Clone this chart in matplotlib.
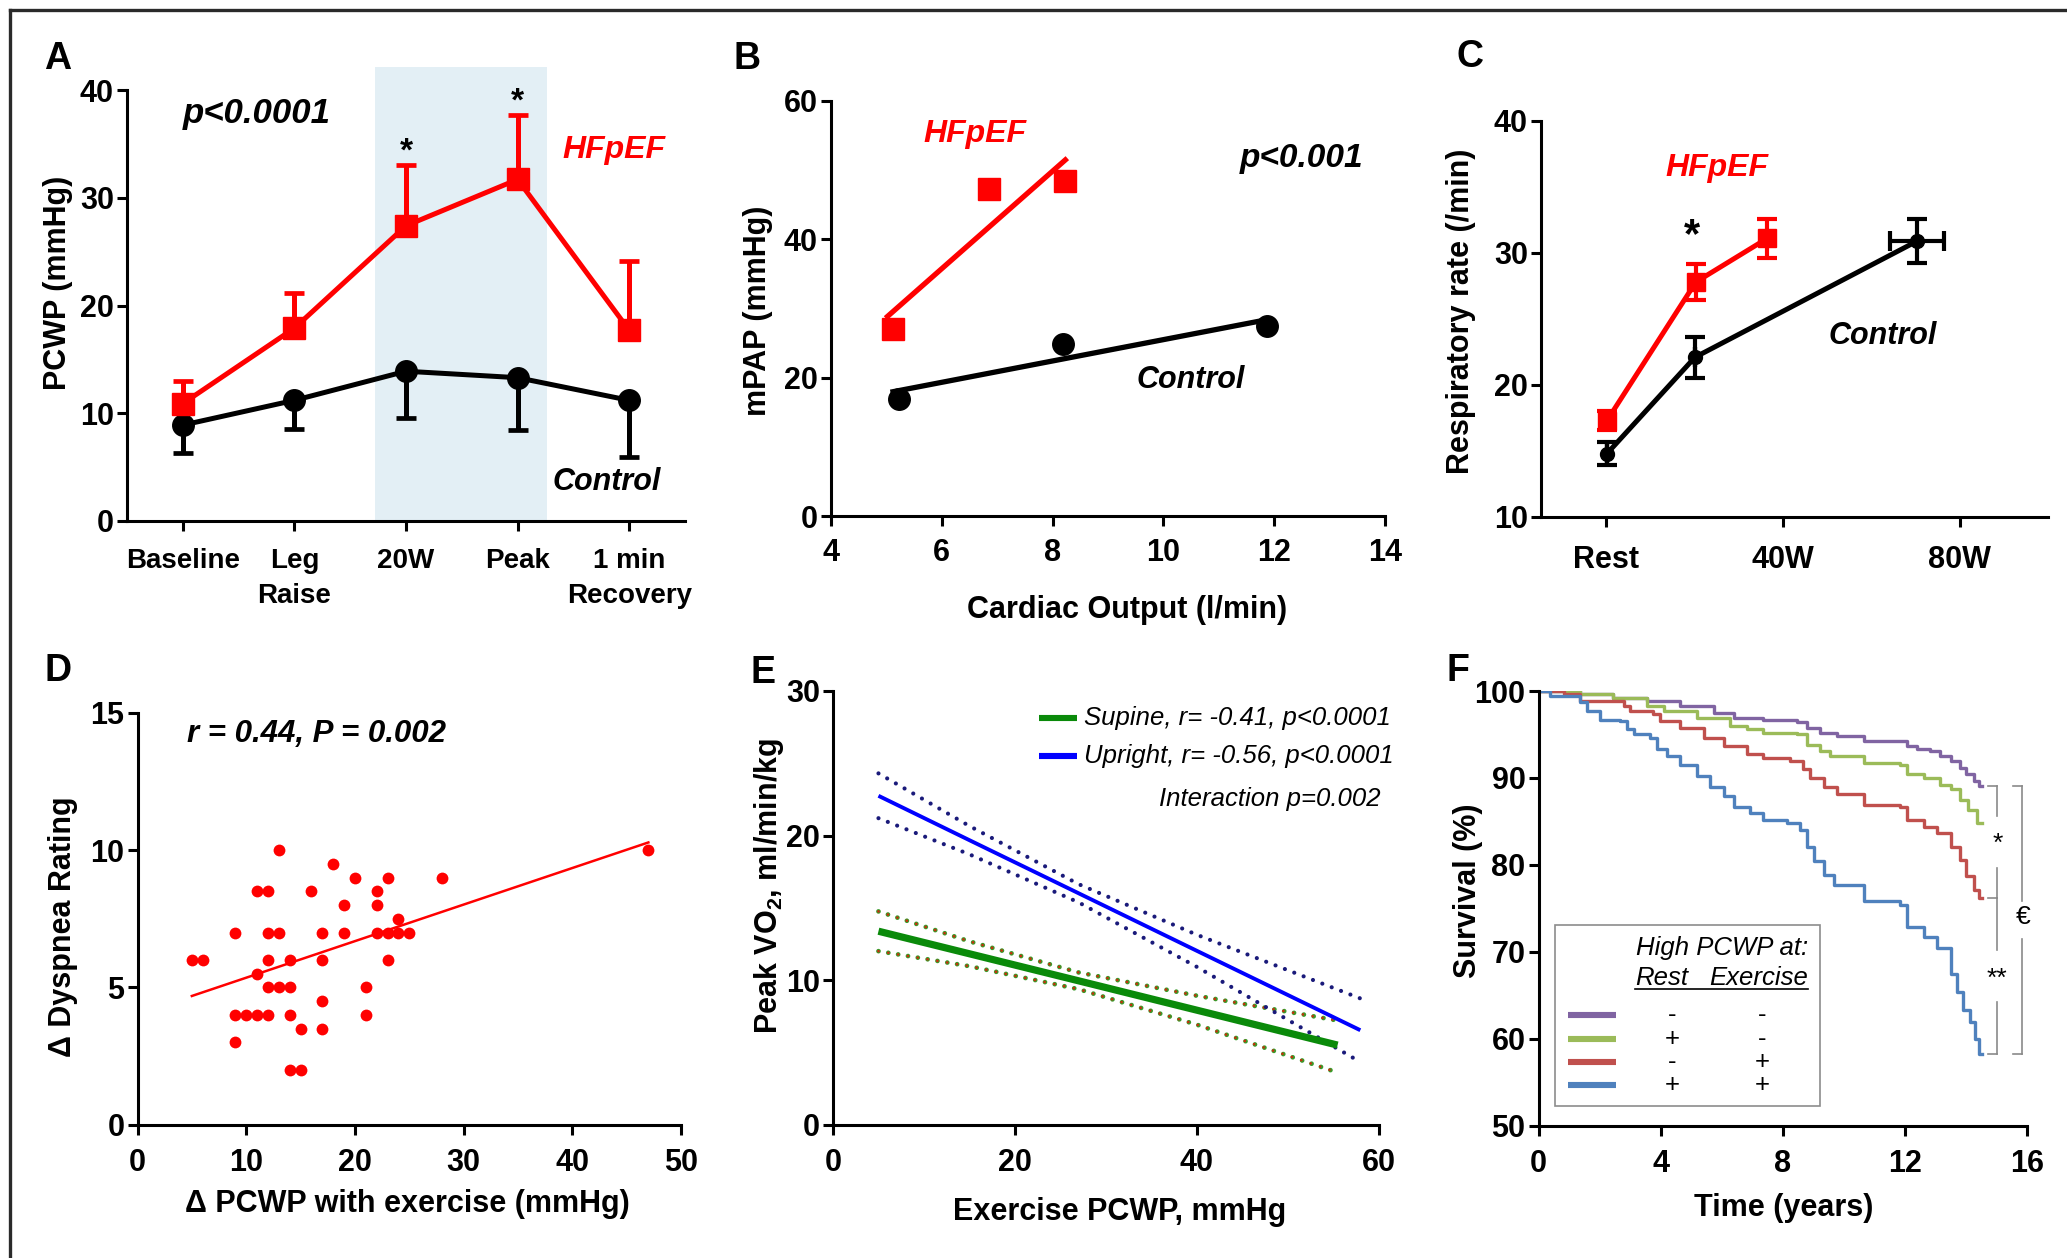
import matplotlib
matplotlib.use("Agg")
import matplotlib.pyplot as plt
import numpy as np
from matplotlib.lines import Line2D
from matplotlib.patches import Rectangle

W, H = 2067, 1258
RED = '#ff0000'

plt.rcParams['font.family'] = ['Liberation Sans', 'DejaVu Sans']
plt.rcParams['font.weight'] = 'bold'
plt.rcParams['mathtext.default'] = 'regular'

# ---------------- data ----------------
# A: PCWP by stage
a_stage = ['Baseline', 'Leg\nRaise', '20W', 'Peak', '1 min\nRecovery']
a_hf = [10.9, 17.9, 27.4, 31.7, 17.7]
a_hf_sd = [2.05, 3.3, 5.6, 6.0, 6.4]
a_ctl = [8.9, 11.2, 13.9, 13.3, 11.2]
a_ctl_sd = [2.55, 2.65, 4.35, 4.85, 5.3]
a_shade = [1.72, 3.26]

# B: mPAP vs cardiac output
b_hf_co = [5.12, 6.85, 8.23]
b_hf_pap = [27.1, 47.3, 48.4]
b_ctl_co = [5.22, 8.18, 11.87]
b_ctl_pap = [16.9, 24.9, 27.4]

# C: respiratory rate vs workload
c_hf_w = [0.3, 20.4, 36.5]
c_hf_rr = [17.3, 27.8, 31.1]
c_hf_sd = [0.7, 1.35, 1.5]
c_ctl_w = [0.3, 20.2, 70.4]
c_ctl_rr = [14.8, 22.1, 30.9]
c_ctl_sd = [0.85, 1.55, 1.65]
c_ctl_wsd = [0, 0, 6.2]
c_ticks = [0, 40, 80]
c_ticklabels = ['Rest', '40W', '80W']

# D: dyspnea vs delta PCWP
d_dpcwp = [5, 6, 9, 9, 9, 10, 11, 11, 11, 12, 12, 12, 12, 12, 13, 13, 13,
           14, 14, 14, 14, 15, 15, 16, 17, 17, 17, 17, 18, 19, 19, 20, 21,
           21, 22, 22, 22, 23, 23, 23, 24, 24, 25, 28, 47]
d_dysp = [6, 6, 7, 4, 3, 4, 5.5, 4, 8.5, 8.5, 7, 6, 5, 4, 10, 7, 5,
          6, 5, 4, 2, 3.5, 2, 8.5, 7, 6, 4.5, 3.5, 9.5, 8, 7, 9, 5,
          4, 8.5, 8, 7, 9, 7, 6, 7.5, 7, 7, 9, 10]

# E: peak VO2 vs exercise PCWP (fit + 95% CI)
e_sup_x = [5, 15, 27, 40, 55.5]
e_sup_fit = [13.38, 11.82, 9.95, 7.92, 5.5]
e_sup_hi = [14.75, 12.68, 10.53, 8.92, 7.2]
e_sup_lo = [12.0, 10.96, 9.37, 6.92, 3.6]
e_up_x = [5, 15, 27, 40, 58]
e_up_fit = [22.75, 19.68, 16.01, 12.03, 6.53]
e_up_hi = [24.3, 20.66, 16.64, 13.14, 8.73]
e_up_lo = [21.2, 18.7, 15.38, 10.92, 4.33]

# F: Kaplan-Meier survival
f_purple_t = [0, 1.36, 2.45, 3.55, 4.64, 5.73, 6.38, 7.36, 8.46, 8.78, 9.22, 9.77,
              10.64, 11.84, 12.06, 12.4, 12.8, 13.15, 13.5, 13.8, 14.0, 14.24, 14.4, 14.5]
f_purple_s = [100, 99.6, 99.2, 98.8, 98.3, 97.5, 96.9, 96.7, 96.4, 95.8, 95.2, 94.8,
              94.3, 94.2, 93.7, 93.3, 93.1, 92.5, 91.9, 91.2, 90.4, 89.6, 89.1, 89.1]
f_green_t = [0, 1.36, 2.45, 3.55, 4.09, 5.18, 6.27, 6.82, 7.36, 8.46, 8.78, 9.22,
             9.55, 10.64, 11.84, 12.06, 12.6, 13.15, 13.5, 13.8, 14.07, 14.35, 14.5]
f_green_s = [100, 99.7, 99.2, 98.3, 97.7, 96.9, 96.0, 95.6, 95.2, 95.0, 93.8, 93.1,
             92.5, 91.7, 91.5, 90.4, 90.0, 89.2, 88.7, 87.5, 86.3, 84.8, 84.8]
f_red_t = [0, 0.82, 1.36, 2.78, 3.0, 3.76, 3.98, 4.64, 5.4, 6.06, 6.82, 7.36, 8.24,
           8.67, 8.89, 9.33, 9.77, 10.64, 11.84, 12.06, 12.6, 13.04, 13.5, 13.8,
           14.0, 14.24, 14.4, 14.5]
f_red_s = [100, 99.6, 98.8, 98.3, 97.7, 97.3, 96.5, 95.8, 94.6, 93.7, 92.7, 92.3, 91.9,
           91.0, 90.0, 89.0, 88.1, 86.9, 86.7, 85.2, 84.4, 83.7, 82.1, 80.6,
           78.7, 77.1, 76.2, 76.2]
f_blue_t = [0, 0.38, 1.36, 1.58, 2.02, 2.67, 2.89, 3.11, 3.66, 3.87, 4.2, 4.64, 5.18,
            5.62, 6.06, 6.38, 6.93, 7.36, 8.13, 8.57, 8.78, 9.0, 9.33, 9.66, 10.64,
            11.84, 12.06, 12.6, 13.04, 13.5, 13.7, 13.9, 14.13, 14.29, 14.4, 14.5]
f_blue_s = [100, 99.4, 98.7, 97.7, 96.7, 96.5, 95.6, 95.0, 94.6, 93.3, 92.5, 91.5, 90.2,
            89.0, 87.9, 86.7, 86.0, 85.2, 84.8, 84.0, 82.1, 80.4, 78.8, 77.7, 75.8,
            75.4, 72.9, 71.7, 70.4, 67.5, 65.4, 63.3, 61.9, 60.0, 58.3, 58.3]
f_colors = ['#8064a2', '#9bbb59', '#c0504d', '#4f81bd']
f_rest = ['-', '+', '-', '+']
f_exer = ['-', '-', '+', '+']


# ---------------- helpers ----------------
def rect(l, r, t, b):
    return [l / W, 1 - b / H, (r - l) / W, (b - t) / H]


def fp(x, y):
    return x / W, 1 - y / H


def style(ax, xpad=9, ypad=2):
    for s in ['top', 'right']:
        ax.spines[s].set_visible(False)
    for s in ['left', 'bottom']:
        ax.spines[s].set_linewidth(2.2)
    ax.tick_params(axis='both', width=2.2, length=7.5, labelsize=22)
    ax.tick_params(axis='x', pad=xpad)
    ax.tick_params(axis='y', pad=ypad)


fig = plt.figure(figsize=(W / 100, H / 100), dpi=100)

def ftext(x, y, s, size=22, **kw):
    fig.text(*fp(x, y), s, fontsize=size, **kw)

# ---------------- A ----------------
ax = fig.add_axes(rect(127, 685, 90, 521))
style(ax, xpad=12)
xs = np.arange(len(a_stage))
ax.fill_between(a_shade, 0, 42.1, color='#e3eff5', lw=0, zorder=0, clip_on=False)
ax.errorbar(xs, a_ctl, yerr=[a_ctl_sd, np.zeros(5)], fmt='none', ecolor='black',
            elinewidth=3.6, capsize=7, capthick=3.4, zorder=2)
ax.plot(xs, a_ctl, 'o-', color='black', ms=15.5, lw=3.6, zorder=3)
ax.errorbar(xs, a_hf, yerr=[np.zeros(5), a_hf_sd], fmt='none', ecolor=RED,
            elinewidth=3.6, capsize=7, capthick=3.4, zorder=4)
ax.plot(xs, a_hf, 's-', color=RED, ms=15.5, lw=3.6, zorder=5)
ax.set_xlim(-0.5, 4.5)
ax.set_ylim(0, 40)
ax.set_yticks([0, 10, 20, 30, 40])
ax.set_xticks(xs)
ax.set_xticklabels(a_stage, fontsize=20)
for lab in ax.get_xticklabels():
    lab.set_linespacing(1.45)
for i in [2, 3]:
    ax.text(xs[i], a_hf[i] + a_hf_sd[i] + 1.2, '*', ha='center', va='center', fontsize=24)
ftext(183, 113, 'p<0.0001', 25, style='italic', va='center')
ftext(562, 150, 'HFpEF', 23, style='italic', va='center', color=RED)
ftext(553, 482, 'Control', 22, style='italic', va='center')
ftext(58, 283, 'PCWP (mmHg)', rotation=90, ha='center', va='center')

# ---------------- B ----------------
ax = fig.add_axes(rect(831, 1385, 101, 516))
style(ax, xpad=8)
for co, pap, col, mk in [(b_ctl_co, b_ctl_pap, 'black', 'o'), (b_hf_co, b_hf_pap, RED, 's')]:
    k, c = np.polyfit(co, pap, 1)
    xx = np.array([min(co) - 0.1, max(co)])
    ax.plot(xx, k * xx + c, color=col, lw=3.8, zorder=2)
    ax.plot(co, pap, mk, color=col, ms=15.5, ls='none', zorder=3)
ax.set_xlim(4, 14)
ax.set_ylim(0, 60)
ax.set_xticks(range(4, 15, 2))
ax.set_yticks([0, 20, 40, 60])
ftext(923, 134, 'HFpEF', 23, style='italic', va='center', color=RED)
ftext(1240, 158, 'p<0.001', 24, style='italic', va='center')
ftext(1137, 380, 'Control', 22, style='italic', va='center')
ftext(758, 311, 'mPAP (mmHg)', rotation=90, ha='center', va='center')
ftext(1127, 610, 'Cardiac Output (l/min)', ha='center', va='center')

# ---------------- C ----------------
ax = fig.add_axes(rect(1541, 2048, 121, 517))
style(ax, xpad=13)
ax.errorbar(c_ctl_w, c_ctl_rr, yerr=c_ctl_sd, xerr=c_ctl_wsd, fmt='o-', color='black',
            ms=10, lw=3.6, elinewidth=3.0, capsize=7, capthick=3.0, zorder=2)
ax.errorbar(c_hf_w, c_hf_rr, yerr=c_hf_sd, fmt='s-', color=RED,
            ms=13, lw=3.6, elinewidth=3.0, capsize=7, capthick=3.0, zorder=3)
ax.set_xlim(-14.6, 100)
ax.set_ylim(10, 40)
ax.set_xticks(c_ticks)
ax.set_xticklabels(c_ticklabels)
ax.set_yticks([10, 20, 30, 40])
ftext(1665, 168, 'HFpEF', 23, style='italic', va='center', color=RED)
ftext(1692, 236, '*', 30, ha='center', va='center')
ftext(1829, 336, 'Control', 22, style='italic', va='center')
ftext(1461, 311, 'Respiratory rate (/min)', rotation=90, ha='center', va='center')

# ---------------- D ----------------
ax = fig.add_axes(rect(137.5, 681, 713, 1124.6))
style(ax)
k, c = np.polyfit(d_dpcwp, d_dysp, 1)
xx = np.array([min(d_dpcwp), max(d_dpcwp)])
ax.plot(xx, k * xx + c, color=RED, lw=1.8, zorder=2)
ax.plot(d_dpcwp, d_dysp, 'o', color=RED, ms=8.5, mec='none', zorder=3)
ax.set_xlim(0, 50)
ax.set_ylim(0, 15)
ax.set_xticks(range(0, 51, 10))
ax.set_yticks([0, 5, 10, 15])
ftext(187, 734, 'r = 0.44, P = 0.002', 22.5, style='italic', va='center')
ftext(63, 927, 'Δ Dyspnea Rating', rotation=90, ha='center', va='center')
ftext(407, 1204, 'Δ PCWP with exercise (mmHg)', ha='center', va='center')

# ---------------- E ----------------
ax = fig.add_axes(rect(833, 1378.5, 691, 1124.6))
style(ax)
GREEN, BLUE = '#0a8a0a', '#0000ff'
for lo_hi in [e_sup_hi, e_sup_lo]:
    ax.plot(e_sup_x, lo_hi, color='#3a9a2a', lw=3.4, ls=(0, (0.01, 2.1)),
            dash_capstyle='round')
    ax.plot(e_sup_x, lo_hi, color='#c8300c', lw=1.9, ls=(0, (0.0179, 3.75)),
            dash_capstyle='round')
for lo_hi in [e_up_hi, e_up_lo]:
    ax.plot(e_up_x, lo_hi, color='#1a1a7a', lw=3.0, ls=(0, (0.01, 2.4)),
            dash_capstyle='round')
ax.plot(e_sup_x, e_sup_fit, color=GREEN, lw=5.2, solid_capstyle='butt')
ax.plot(e_up_x, e_up_fit, color=BLUE, lw=2.8, solid_capstyle='butt')
ax.set_xlim(0, 60)
ax.set_ylim(0, 30)
ax.set_xticks([0, 20, 40, 60])
ax.set_yticks([0, 10, 20, 30])
ax.plot([0.378, 0.447], [0.938, 0.938], transform=ax.transAxes, color=GREEN, lw=4.4,
        solid_capstyle='butt', clip_on=False)
ax.plot([0.378, 0.447], [0.849, 0.849], transform=ax.transAxes, color=BLUE, lw=4.4,
        solid_capstyle='butt', clip_on=False)
ax.text(0.46, 0.938, 'Supine, r= -0.41, p<0.0001', transform=ax.transAxes, fontsize=18.5,
        style='italic', weight='normal', va='center')
ax.text(0.46, 0.849, 'Upright, r= -0.56, p<0.0001', transform=ax.transAxes, fontsize=18.5,
        style='italic', weight='normal', va='center')
ax.text(1.004, 0.751, 'Interaction p=0.002', transform=ax.transAxes, fontsize=18.5,
        style='italic', weight='normal', va='center', ha='right')
ftext(769, 886, 'Peak VO$_2$, ml/min/kg', rotation=90, ha='center', va='center')
ftext(1120, 1212, 'Exercise PCWP, mmHg', ha='center', va='center')

# ---------------- F ----------------
ax = fig.add_axes(rect(1538.6, 2027.4, 691, 1125.8))
style(ax)
curves = [(f_purple_t, f_purple_s), (f_green_t, f_green_s),
          (f_red_t, f_red_s), (f_blue_t, f_blue_s)]
for (t, s), col in zip(curves, f_colors):
    ax.plot(t, s, drawstyle='steps-post', color=col, lw=2.4)
ax.set_xlim(0, 16)
ax.set_ylim(50, 100)
ax.set_xticks([0, 4, 8, 12, 16])
ax.set_yticks(range(50, 101, 10))

# significance brackets
p_end, r_end, b_end = f_purple_s[-1], f_red_s[-1], f_blue_s[-1]
gcol = '#8a8a8a'
xi, xo = 15.0, 15.81
m1 = (p_end + r_end) / 2
m2 = (r_end + b_end) / 2
m3 = (p_end + b_end) / 2
for y0, y1 in [(p_end, m1 + 3), (m1 - 3, r_end), (r_end, m2 + 3), (m2 - 3, b_end)]:
    ax.plot([xi, xi], [y0, y1], color=gcol, lw=1.2, clip_on=False)
for y in [p_end, r_end, b_end]:
    ax.plot([xi - 0.28, xi], [y, y], color=gcol, lw=1.2, clip_on=False)
for y0, y1 in [(p_end, m3 + 2.2), (m3 - 2.2, b_end)]:
    ax.plot([xo, xo], [y0, y1], color=gcol, lw=1.2, clip_on=False)
for y in [p_end, b_end]:
    ax.plot([xo - 0.27, xo], [y, y], color=gcol, lw=1.2, clip_on=False)
ax.text(xi + 0.04, m1 - 0.2, '*', fontsize=19, weight='normal', ha='center', va='center')
ax.text(xi, m2 - 0.3, '**', fontsize=19, weight='normal', ha='center', va='center')
ax.text(xo + 0.05, m3 + 0.3, '€', fontsize=19, weight='normal', ha='center', va='center')

# legend box
ax.add_patch(Rectangle((0.034, 0.045), 0.542, 0.4166, transform=ax.transAxes,
                       facecolor='white', edgecolor='#8c8c8c', lw=1.2, zorder=4))
ax.text(0.552, 0.41, 'High PCWP at:', transform=ax.transAxes, fontsize=18.5,
        style='italic', weight='normal', ha='right', va='center', zorder=5)
ax.text(0.198, 0.34, 'Rest', transform=ax.transAxes, fontsize=18.5,
        style='italic', weight='normal', ha='left', va='center', zorder=5)
ax.text(0.552, 0.34, 'Exercise', transform=ax.transAxes, fontsize=18.5,
        style='italic', weight='normal', ha='right', va='center', zorder=5)
ax.plot([0.198, 0.552], [0.3136, 0.3136], transform=ax.transAxes, color='black',
        lw=1.2, zorder=5)
leg_y = [0.2538, 0.1995, 0.1461, 0.0937]
for y, col, r, e in zip(leg_y, f_colors, f_rest, f_exer):
    ax.plot([0.061, 0.159], [y, y], transform=ax.transAxes, color=col, lw=4.4,
            solid_capstyle='butt', zorder=5)
    ax.text(0.274, y, r, transform=ax.transAxes, fontsize=18.5, weight='normal',
            ha='center', va='center', zorder=5)
    ax.text(0.457, y, e, transform=ax.transAxes, fontsize=18.5, weight='normal',
            ha='center', va='center', zorder=5)
ftext(1468, 891, 'Survival (%)', rotation=90, ha='center', va='center')
ftext(1784, 1208, 'Time (years)', ha='center', va='center')

# panel letters
for letter, x, y in [('A', 58, 59), ('B', 747, 59), ('C', 1470, 57),
                     ('D', 58, 671), ('E', 763, 673), ('F', 1458, 671)]:
    ftext(x, y, letter, 27, ha='center', va='center')

# outer frame (top and left edges)
fig.add_artist(Line2D([10 / W, 1], [1 - 10 / H, 1 - 10 / H], transform=fig.transFigure,
                      color='#2a2a2a', lw=2.4))
fig.add_artist(Line2D([10 / W, 10 / W], [0, 1 - 10 / H], transform=fig.transFigure,
                      color='#2a2a2a', lw=2.4))

fig.savefig('out.png', dpi=100, facecolor='white')
